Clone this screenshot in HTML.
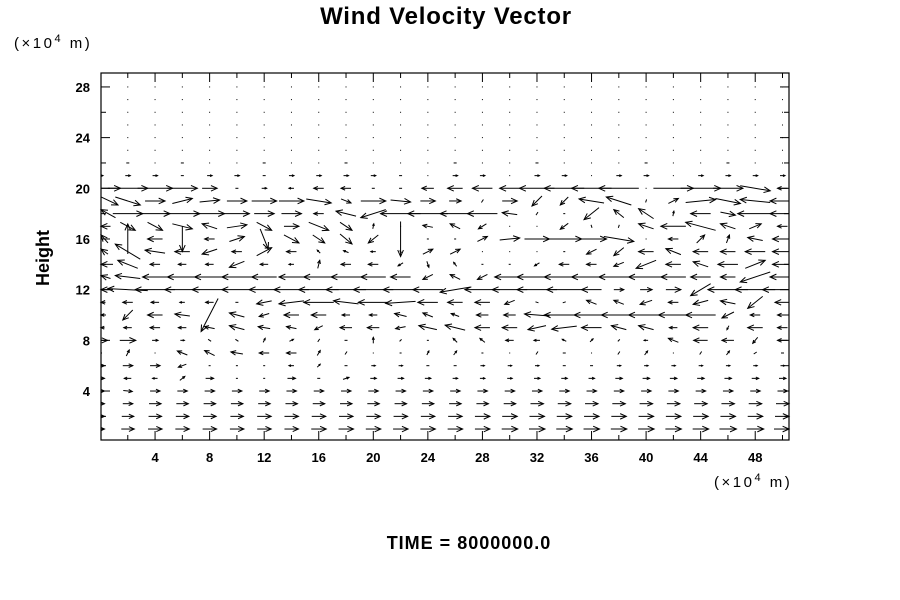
<!DOCTYPE html>
<html><head><meta charset="utf-8"><style>
html,body{margin:0;padding:0;background:#fff;}
svg{display:block;}
text{font-family:"Liberation Sans",sans-serif;}
</style></head><body>
<svg id="chart" width="900" height="600" viewBox="0 0 900 600" xmlns="http://www.w3.org/2000/svg">
<text x="446" y="24" text-anchor="middle" font-size="24" font-weight="bold" letter-spacing="0.8">Wind Velocity Vector</text>
<text x="14" y="48" font-size="15" letter-spacing="2.5">(×10<tspan dy="-6" font-size="11">4</tspan><tspan dy="6"> m)</tspan></text>
<text x="714" y="487" font-size="15" letter-spacing="2.5">(×10<tspan dy="-6" font-size="11">4</tspan><tspan dy="6"> m)</tspan></text>
<text transform="translate(49,258) rotate(-90)" text-anchor="middle" font-size="18" font-weight="bold">Height</text>
<text x="469" y="549" text-anchor="middle" font-size="18" font-weight="bold" letter-spacing="1">TIME = 8000000.0</text>
<g id="axes"></g>
<g id="vectors"></g>
<rect x="101" y="73" width="688" height="367" fill="none" stroke="#000" stroke-width="1.2"/>
</svg>
<script>
const xTicks=[4,8,12,16,20,24,28,32,36,40,44,48];
const yTicks=[4,8,12,16,20,24,28];
const xGrid=[0,2,4,6,8,10,12,14,16,18,20,22,24,26,28,30,32,34,36,38,40,42,44,46,48,50];
const heights=[1,2,3,4,5,6,7,8,9,10,11,12,13,14,15,16,17,18,19,20,21,22,23,24,25,26,27,28];
const U=[
[8,13,14,14,14,14,14,14,15,15,15,15,15,15,15,16,16,16,16,16,16,16,16,17,17,17],
[8,12,13,13,13,13,14,14,14,14,14,14,14,14,15,15,15,15,15,15,15,15,15,15,15,15],
[8,10,12,12,12,12,12,12,12,12,12,12,12,12,12,12,13,13,13,13,13,13,13,13,13,13],
[8,9,10,10,10,10,10,10,10,10,10,10,10,10,10,10,10,10,10,10,10,10,10,10,10,10],
[8,-7,-5,5,8,2,2,8,3,6,6,6,6,5,5,5,6,6,6,7,7,7,7,7,7,7],
[8,10,10,-8,2,2,2,-5,3,3,4,4,3,3,4,4,4,3,3,4,4,4,4,4,4,4],
[-3,3,1,-10,-10,-12,-10,-10,3,2,1,-2,2,3,-2,1,2,-3,1,2,3,1,2,3,3,3],
[14,16,6,4,-3,-3,2,4,2,3,0,2,-2,-4,-5,-8,-6,-4,3,-2,-4,-10,-14,-12,-5,-10],
[-8,-8,-10,-8,-10,-15,-12,-10,-8,-12,-12,-10,-18,-20,-15,-15,-18,-25,-20,-15,-15,-8,-15,-2,-15,-10],
[-8,-10,-15,-15,-17,-15,-10,-15,-15,-8,-8,-12,-10,-8,-12,-12,-25,-40,-35,-35,-35,-30,-30,-12,-10,-10],
[-10,-10,-8,-5,-8,-3,-15,-25,-30,-25,-30,-30,-20,-15,-15,-10,-3,-3,-10,-10,-12,-10,-15,-15,-15,-15],
[-25,-40,-40,-35,-35,-30,-30,-35,-40,-40,-40,-35,-30,-30,-35,-35,-40,-35,-20,10,12,15,-20,-40,-40,-40],
[-20,-25,-25,-30,-30,-30,-25,-25,-30,-30,-25,-20,-10,-10,-10,-30,-40,-40,-40,-40,-35,-25,-20,-15,-30,-25],
[-25,-20,-10,-8,-8,-15,-8,-5,2,-10,-10,-5,2,-3,2,2,-5,-10,-10,-10,-20,-15,-15,-20,20,-20],
[-15,-25,-20,-15,-15,-10,15,-10,-3,-5,-5,2,10,10,1,1,1,2,-10,-10,-15,-15,-15,-15,-20,-20],
[-15,0,-15,0,-10,15,8,15,12,12,-10,0,2,2,10,20,25,35,30,30,1,-10,8,3,-15,-20],
[-20,15,15,20,-15,20,15,15,20,12,1,1,-10,-10,-8,1,1,-8,1,1,-15,-25,-30,-15,12,-10],
[-30,30,30,35,30,25,20,20,-10,-20,-25,-40,-40,-30,-30,-15,2,2,-15,-10,-15,1,-20,15,-35,-25],
[35,25,20,20,20,20,25,25,25,10,25,20,15,12,2,15,-10,-8,-25,-25,1,10,30,25,-30,-25],
[40,40,35,30,15,3,5,-5,-10,-10,3,3,-12,-15,-20,-20,-35,-40,-40,-40,1,40,40,30,30,-10],
[5,5,5,3,5,5,3,5,5,5,5,3,1,5,5,1,5,5,1,5,5,1,5,5,5,5],
[1,3,1,3,1,1,3,1,1,3,1,1,1,3,1,1,3,1,1,1,3,1,1,3,1,1],
[0,1,1,1,1,1,1,1,1,1,1,1,1,1,1,1,1,1,1,1,1,1,1,1,1,1],
[0,1,1,1,1,1,1,1,1,1,1,1,1,1,1,1,1,1,1,1,1,1,1,1,1,1],
[0,1,1,1,1,1,1,1,1,1,1,1,1,1,1,1,1,1,1,1,1,1,1,1,1,1],
[0,1,1,1,1,1,1,1,1,1,1,1,1,1,1,1,1,1,1,1,1,1,1,1,1,1],
[0,1,1,1,1,1,1,1,1,1,1,1,1,1,1,1,1,1,1,1,1,1,1,1,1,1],
[0,1,1,1,1,1,1,1,1,1,1,1,1,1,1,1,1,1,1,1,1,1,1,1,1,1]
];
const V=[
[0,0,0,0,0,0,0,0,0,0,0,0,0,0,0,0,0,0,0,0,0,0,0,0,0,0],
[0,0,0,0,0,0,0,0,0,0,0,0,0,0,0,0,0,0,0,0,0,0,0,0,0,0],
[0,0,0,0,0,0,0,0,0,0,0,0,0,0,0,0,0,0,0,0,0,0,0,0,0,0],
[0,-1,0,0,0,0,0,0,0,0,0,0,0,0,0,0,0,0,0,0,0,0,0,0,0,0],
[0,0,0,4,0,0,0,0,0,2,0,0,0,0,0,0,0,0,0,0,0,0,0,0,0,0],
[0,0,0,-3,0,0,0,0,3,0,0,0,0,0,0,0,0,0,0,0,0,0,0,0,0,0],
[0,6,0,4,5,2,0,0,5,3,0,0,4,4,0,0,3,0,0,3,4,0,3,4,2,0],
[0,0,0,0,2,2,4,2,3,0,6,2,0,4,4,0,0,2,3,-2,0,4,0,0,-6,0],
[0,0,0,0,2,4,2,2,-4,0,0,-2,4,5,0,0,-4,-3,0,4,4,0,0,-4,0,0],
[0,-10,0,2,-33,4,-3,0,0,0,0,3,4,3,0,0,2,0,0,0,0,0,0,-6,0,0],
[0,0,0,0,0,0,-3,-3,0,3,0,-2,0,0,0,-4,1,-1,4,4,-4,0,-4,3,-12,0],
[0,2,0,0,0,0,0,0,0,0,0,0,0,-5,0,0,0,0,0,0,0,0,-12,0,0,0],
[3,3,0,0,0,0,0,0,0,0,0,0,-5,5,-5,0,0,0,0,0,0,0,0,0,-10,0],
[0,8,0,0,0,-6,0,0,8,0,0,-3,-6,4,0,0,-3,0,0,-4,-8,0,5,0,8,0],
[5,15,3,0,-5,0,8,0,3,2,0,-2,5,5,0,0,0,0,-5,-8,0,6,0,0,0,0],
[8,30,0,-25,0,5,-20,-8,-8,-10,-8,-35,0,0,5,2,0,0,0,-5,0,0,8,8,3,0],
[0,-8,-8,-5,5,3,-8,0,-8,-8,5,0,2,5,-5,0,0,-6,-3,3,5,0,8,5,5,0],
[8,0,0,0,0,0,0,0,0,5,-8,0,0,0,0,2,3,0,-12,8,10,5,0,-3,0,0],
[-8,-8,0,5,2,0,0,0,-4,-4,0,-2,0,0,3,0,-10,-8,4,8,3,5,3,-5,3,0],
[0,0,0,0,0,0,0,0,0,0,0,0,0,0,0,0,0,0,0,0,0,0,0,0,-5,0],
[0,0,0,0,0,0,0,0,0,0,0,0,0,0,0,0,0,0,0,0,0,0,0,0,0,0],
[0,0,0,0,0,0,0,0,0,0,0,0,0,0,0,0,0,0,0,0,0,0,0,0,0,0],
[0,0,0,0,0,0,0,0,0,0,0,0,0,0,0,0,0,0,0,0,0,0,0,0,0,0],
[0,0,0,0,0,0,0,0,0,0,0,0,0,0,0,0,0,0,0,0,0,0,0,0,0,0],
[0,0,0,0,0,0,0,0,0,0,0,0,0,0,0,0,0,0,0,0,0,0,0,0,0,0],
[0,0,0,0,0,0,0,0,0,0,0,0,0,0,0,0,0,0,0,0,0,0,0,0,0,0],
[0,0,0,0,0,0,0,0,0,0,0,0,0,0,0,0,0,0,0,0,0,0,0,0,0,0],
[0,0,0,0,0,0,0,0,0,0,0,0,0,0,0,0,0,0,0,0,0,0,0,0,0,0]
];
const NS='http://www.w3.org/2000/svg';
const X0=101,X1=789,Y0=440,Y1=73;
function xs(v){return 100.5+v*13.64;}
function ys(v){return 441.7-v*12.67;}
const LSCALE=1.0;
function mk(tag,attrs,parent){const e=document.createElementNS(NS,tag);for(const k in attrs)e.setAttribute(k,attrs[k]);parent.appendChild(e);return e;}
const axes=document.getElementById('axes');
for(let v=2;v<=50;v+=2){
  const major=xTicks.includes(v);
  const L=major?9:5;
  const t=mk('line',{x1:xs(v),x2:xs(v),y1:Y0,y2:Y0-L,stroke:'#000','stroke-width':1},axes);
  
  
  const t2=mk('line',{x1:xs(v),x2:xs(v),y1:Y1,y2:Y1+L,stroke:'#000','stroke-width':1},axes);
  
  
}
for(let v=2;v<=28;v+=2){
  const major=yTicks.includes(v);
  const L=major?9:5;
  const t=mk('line',{x1:X0,x2:X0+L,y1:ys(v),y2:ys(v),stroke:'#000','stroke-width':1},axes);
  
  
  const t2=mk('line',{x1:X1,x2:X1-L,y1:ys(v),y2:ys(v),stroke:'#000','stroke-width':1},axes);
  
  
}
xTicks.forEach(v=>{
  const t=mk('text',{x:xs(v),y:462,'text-anchor':'middle','font-size':13,'font-weight':'bold'},axes);
  t.textContent=v;
  
  
});
yTicks.forEach(v=>{
  const t=mk('text',{x:90,y:ys(v)+5,'text-anchor':'end','font-size':13,'font-weight':'bold'},axes);
  t.textContent=v;
  
  
});
const vg=document.getElementById('vectors');
heights.forEach((h,r)=>{
  xGrid.forEach((x,c)=>{
    const u=U[r][c]*LSCALE, w=V[r][c]*LSCALE;
    const cx=xs(x), cy=ys(h);
    const len=Math.hypot(u,w);
    const g=mk('g',{},vg);
    
    
    if(len<0.5){return;}
    const x1=Math.max(X0,Math.min(X1,cx-u/2)), y1=cy+w/2;
    const x2=Math.max(X0,Math.min(X1,cx+u/2)), y2=cy-w/2;
    mk('line',{x1:x1,y1:y1,x2:x2,y2:y2,stroke:'#000','stroke-width':1},g);
    if(len>=4){
      const a=Math.atan2(y2-y1,x2-x1), hl=Math.min(7,len*0.45), sp=0.42;
      mk('polyline',{points:`${x2-hl*Math.cos(a-sp)},${y2-hl*Math.sin(a-sp)} ${x2},${y2} ${x2-hl*Math.cos(a+sp)},${y2-hl*Math.sin(a+sp)}`,fill:'none',stroke:'#000','stroke-width':1},g);
    }
  });
});
</script>
</body></html>
